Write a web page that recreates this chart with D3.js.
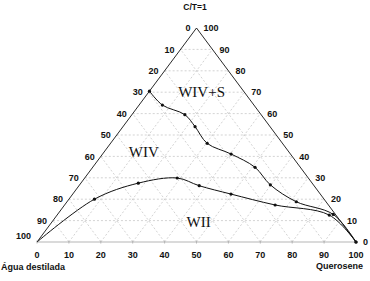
<!DOCTYPE html>
<html>
<head>
<meta charset="utf-8">
<script src="https://cdn.jsdelivr.net/npm/d3@7"></script>
<style>
  body { margin: 0; background: #fff; }
  svg { display: block; font-family: Arial, "Liberation Sans", sans-serif; }
  .tick-label { font-size: 9px; font-weight: bold; fill: #111; }
  .region { font-family: "Times New Roman", "Liberation Serif", serif; font-size: 15px; fill: #111; }
</style>
</head>
<body>
<div id="chart"></div>
<script>
// Ternary diagram: Querosene (bottom right), Água destilada (bottom left), C/T=1 (top)
// each point stored as Querosene % and C/T %; Água = 100 - both
const upperKero = [0, 7.3, 16.6, 22.6, 30.3, 40.3, 50.9, 59.8, 71.9, 86.4, 100];
const upperCT   = [70.5, 64.0, 59.5, 53.9, 46.1, 41.1, 34.9, 26.7, 18.8, 12.9, 0];

const lowerKero = [0, 8.0, 18.0, 29.0, 37.7, 49.6, 66.0, 85.3, 100];
const lowerCT   = [0, 20.0, 27.5, 29.9, 26.3, 22.4, 17.3, 12.6, 0];

const tickValues = [0, 10, 20, 30, 40, 50, 60, 70, 80, 90, 100];

const regions = [
  { name: "WIV+S", kero: 16.6, ct: 70 },
  { name: "WIV",   kero: 12.5, ct: 42 },
  { name: "WII",   kero: 46,   ct: 9.3 }
];

const fullW = 370, fullH = 281;
const svg = d3.select("#chart").append("svg")
  .attr("width", fullW).attr("height", fullH);

// horizontal position from (Querosene + C/T/2), vertical from C/T
const x = d3.scaleLinear().domain([0, 100]).range([37, 356]);
const y = d3.scaleLinear().domain([0, 100]).range([242, 28]);
const px = (k, c) => x(k + c / 2);
const py = (k, c) => y(c);

// grid lines
const grid = svg.append("g").attr("stroke", "#c8c8c8").attr("stroke-width", 0.8)
  .attr("stroke-dasharray", "2,2");
for (let i = 10; i < 100; i += 10) {
  // constant C/T
  grid.append("line").attr("x1", px(0, i)).attr("y1", py(0, i)).attr("x2", px(100 - i, i)).attr("y2", py(100 - i, i));
  // constant Querosene
  grid.append("line").attr("x1", px(i, 0)).attr("y1", py(i, 0)).attr("x2", px(i, 100 - i)).attr("y2", py(i, 100 - i));
  // constant Água
  grid.append("line").attr("x1", px(100 - i, 0)).attr("y1", py(100 - i, 0)).attr("x2", px(0, 100 - i)).attr("y2", py(0, 100 - i));
}

// triangle edges
svg.append("line").attr("x1", px(0, 0)).attr("y1", py(0, 0)).attr("x2", px(100, 0)).attr("y2", py(100, 0))
  .attr("stroke", "#b5b5b5").attr("stroke-width", 1);
svg.append("line").attr("x1", px(0, 0)).attr("y1", py(0, 0)).attr("x2", px(0, 100)).attr("y2", py(0, 100))
  .attr("stroke", "#111").attr("stroke-width", 0.9);
svg.append("line").attr("x1", px(100, 0)).attr("y1", py(100, 0)).attr("x2", px(0, 100)).attr("y2", py(0, 100))
  .attr("stroke", "#111").attr("stroke-width", 0.9);

// bottom ticks
svg.append("g").selectAll("line").data(tickValues).join("line")
  .attr("x1", d => x(d)).attr("x2", d => x(d))
  .attr("y1", y(0) - 1.5).attr("y2", y(0) + 1.5)
  .attr("stroke", "#b5b5b5");

// axis labels
svg.append("g").selectAll("text").data(tickValues).join("text")
  .attr("class", "tick-label").attr("text-anchor", "middle")
  .attr("x", d => x(d)).attr("y", y(0) + 13).attr("dy", "0.35em")
  .text(d => d);

svg.append("g").selectAll("text").data(tickValues).join("text")
  .attr("class", "tick-label").attr("text-anchor", "end")
  .attr("x", d => px(0, 100 - d) - 6)
  .attr("y", d => py(0, 100 - d) - (d === 100 ? 6 : 0)).attr("dy", "0.35em")
  .text(d => d);

svg.append("g").selectAll("text").data(tickValues).join("text")
  .attr("class", "tick-label").attr("text-anchor", "start")
  .attr("x", d => px(100 - d, d) + 7)
  .attr("y", d => py(100 - d, d)).attr("dy", "0.35em")
  .text(d => d);

svg.append("text").attr("class", "tick-label").style("font-size", "8.5px")
  .attr("text-anchor", "middle").attr("x", 195).attr("y", 7).attr("dy", "0.35em")
  .text("C/T=1");
svg.append("text").attr("class", "tick-label")
  .attr("x", 1).attr("y", 267).attr("dy", "0.35em")
  .text("Água destilada");
svg.append("text").attr("class", "tick-label").attr("text-anchor", "end")
  .attr("x", 363).attr("y", 266).attr("dy", "0.35em")
  .text("Querosene");

// region names
svg.append("g").selectAll("text").data(regions).join("text")
  .attr("class", "region").attr("text-anchor", "middle")
  .attr("x", d => px(d.kero, d.ct)).attr("y", d => py(d.kero, d.ct)).attr("dy", "0.35em")
  .text(d => d.name);

// boundary curves
const curves = [
  d3.zip(upperKero, upperCT),
  d3.zip(lowerKero, lowerCT)
];
const line = d3.line()
  .x(d => px(d[0], d[1]))
  .y(d => py(d[0], d[1]))
  .curve(d3.curveCatmullRom.alpha(0.5));

curves.forEach((pts, ci) => {
  svg.append("path").datum(pts)
    .attr("d", line)
    .attr("fill", "none").attr("stroke", "#111").attr("stroke-width", 1);
  svg.append("g").selectAll("circle").data(ci === 1 ? pts.slice(1) : pts).join("circle")
    .attr("cx", d => px(d[0], d[1])).attr("cy", d => py(d[0], d[1]))
    .attr("r", 1.6).attr("fill", "#111");
});
</script>
</body>
</html>
